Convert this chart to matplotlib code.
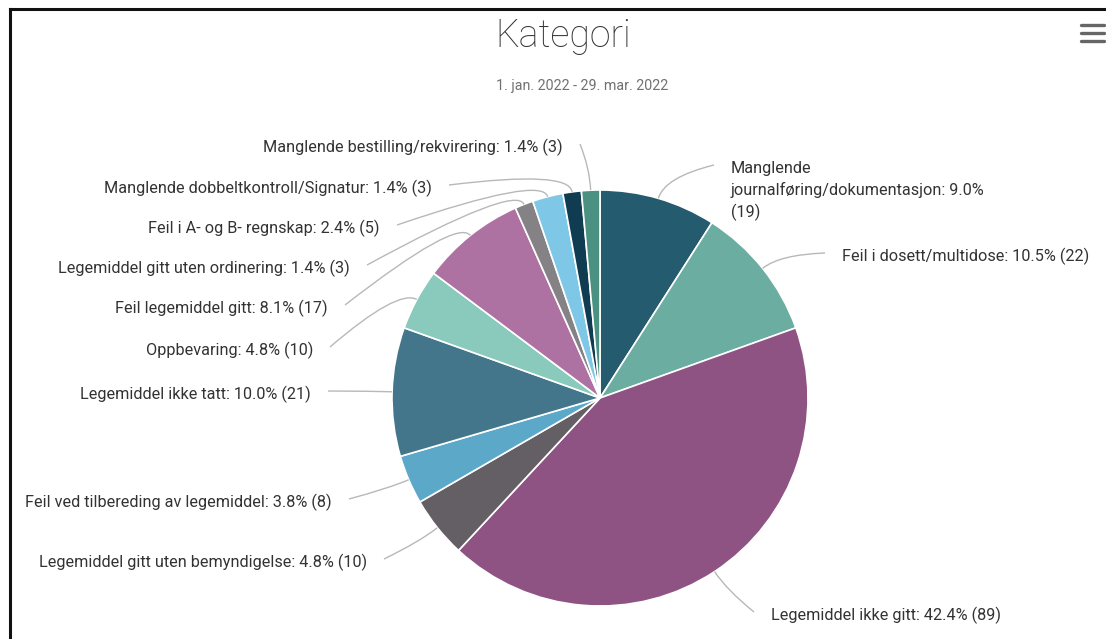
import textwrap
import numpy as np
import matplotlib
matplotlib.use("Agg")
import matplotlib.pyplot as plt
from matplotlib.path import Path
from matplotlib.patches import PathPatch

# data, clockwise from 12 o'clock
categories = [
    "Manglende journalføring/dokumentasjon",
    "Feil i dosett/multidose",
    "Legemiddel ikke gitt",
    "Legemiddel gitt uten bemyndigelse",
    "Feil ved tilbereding av legemiddel",
    "Legemiddel ikke tatt",
    "Oppbevaring",
    "Feil legemiddel gitt",
    "Legemiddel gitt uten ordinering",
    "Feil i A- og B- regnskap",
    "Manglende dobbeltkontroll/Signatur",
    "Manglende bestilling/rekvirering",
]
counts = [19, 22, 89, 10, 8, 21, 10, 17, 3, 5, 3, 3]
colors = ["#255B6E", "#6BADA0", "#8F5383", "#645F64", "#5BA8C9", "#43758B",
          "#8ACABD", "#AE72A2", "#858285", "#7FC7E6", "#0F3C51", "#4A9181"]

title = "Kategori"
subtitle = "1. jan. 2022 - 29. mar. 2022"

# label anchors in screen pixels (x, y from top) and side
label_pos = [(731, 191), (842, 256), (771, 615), (367, 562), (332, 502),
             (311, 394), (313, 350), (328, 308), (350, 268), (380, 228),
             (432, 188), (563, 147)]
label_side = ["L", "L", "L", "R", "R", "R", "R", "R", "R", "R", "R", "R"]

W, H = 1106, 639
plt.rcParams['font.family'] = ['Roboto', 'DejaVu Sans']


def py(y):
    return H - y


fig = plt.figure(figsize=(W / 100, H / 100), dpi=100)
ax = fig.add_axes([0, 0, 1, 1])

cx, cy, R = 600, py(398), 208
ax.pie(counts, colors=colors, startangle=90, counterclock=False,
       center=(cx, cy), radius=R, frame=True,
       wedgeprops=dict(edgecolor='white', linewidth=1.2))
ax.set_xlim(0, W)
ax.set_ylim(0, H)
ax.axis('off')

total = sum(counts)
cum = np.cumsum(counts) - np.array(counts) / 2
for i, (name, c) in enumerate(zip(categories, counts)):
    txt = f"{name}: {c / total * 100:.1f}% ({c})"
    if i == 0:
        txt = textwrap.fill(txt, 33)
    lx, ly = label_pos[i]
    ha = 'left' if label_side[i] == "L" else 'right'
    ax.text(lx, py(ly), txt, ha=ha, va='center', fontsize=11.7,
            color='#333333', linespacing=1.42)

    theta = np.deg2rad(90 - 360 * cum[i] / total)
    p0 = (cx + R * np.cos(theta), cy + R * np.sin(theta))
    p1 = (cx + (R + 22) * np.cos(theta), cy + (R + 22) * np.sin(theta))
    ey = ly - 3 if i != 0 else 165
    ex = lx - 17 if ha == 'left' else lx + 17
    path = Path([p0, p1, (ex, py(ey))], [Path.MOVETO, Path.CURVE3, Path.CURVE3])
    ax.add_patch(PathPatch(path, facecolor='none', edgecolor='#b8b8b8', lw=1.0))

ax.text(563, py(36), title, ha='center', va='center', fontsize=27,
        fontweight='light', color='#333333')
ax.text(582, py(86), subtitle, ha='center', va='center', fontsize=10.3,
        color='#707070')

# menu icon
for yy in (25, 33, 41):
    ax.plot([1081, 1104], [py(yy), py(yy)], color='#666666', lw=2.4,
            solid_capstyle='round')

# frame of screenshot
ax.plot([10, W], [py(9), py(9)], color='#111111', lw=2.2)
ax.plot([10, 10], [py(9), 0], color='#111111', lw=2.2)

fig.savefig("out.png", dpi=100)
